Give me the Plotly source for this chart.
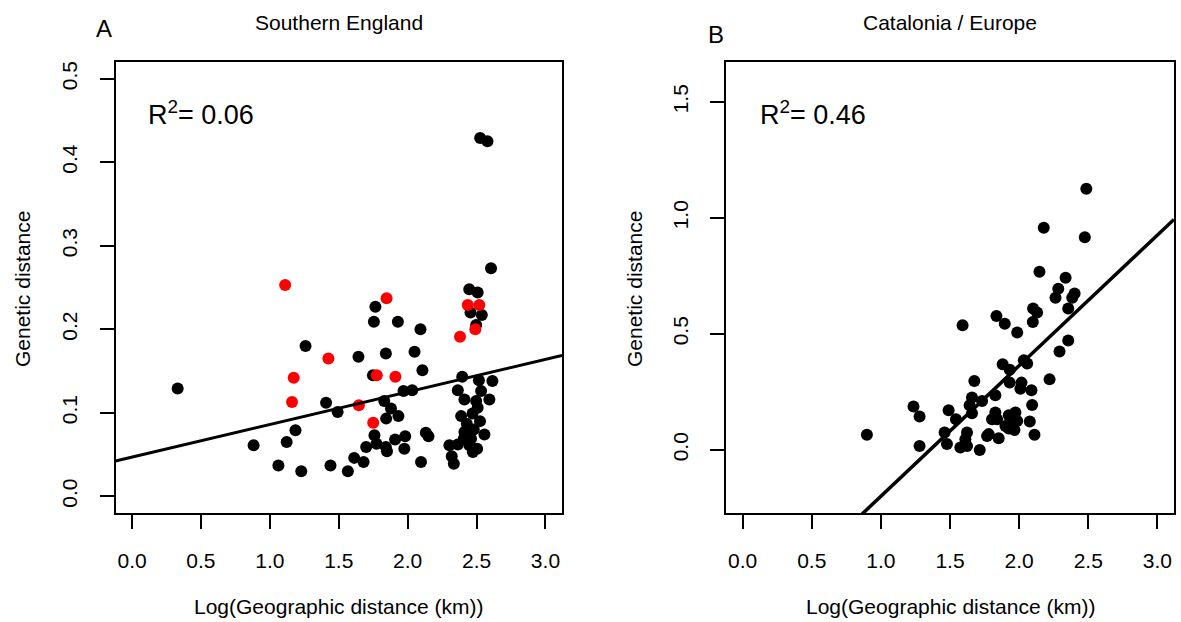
import plotly.graph_objects as go

# ---------------- data ----------------
# Panel A: Southern England (black = other pairs, red = highlighted pairs)
a_black_x = [0.331, 2.526, 2.579, 2.605, 2.447, 2.508, 2.456, 2.538, 2.497, 1.766,
             1.755, 1.929, 2.093, 1.259, 1.643, 1.842, 2.050, 2.107, 1.748, 2.396,
             2.517, 2.615, 1.970, 2.033, 2.364, 2.533, 2.412, 2.497, 2.593, 1.408,
             1.830, 1.492, 1.879, 2.508, 1.933, 1.844, 2.388, 2.471, 2.429, 1.186,
             1.759, 1.909, 1.982, 2.132, 2.151, 2.412, 2.557, 2.407, 2.460, 0.882,
             1.122, 1.774, 1.699, 1.842, 1.850, 1.976, 2.303, 2.364, 2.448, 2.504,
             2.473, 1.612, 1.680, 2.097, 2.320, 2.335, 1.062, 1.440, 1.228, 1.566,
             2.480, 2.440, 2.525]
a_black_y = [0.129, 0.429, 0.425, 0.273, 0.248, 0.244, 0.220, 0.217, 0.205, 0.227,
             0.209, 0.209, 0.200, 0.180, 0.167, 0.171, 0.173, 0.151, 0.145, 0.143,
             0.139, 0.138, 0.126, 0.127, 0.127, 0.126, 0.116, 0.114, 0.116, 0.112,
             0.114, 0.101, 0.105, 0.106, 0.096, 0.093, 0.096, 0.099, 0.087, 0.079,
             0.073, 0.068, 0.072, 0.076, 0.072, 0.077, 0.074, 0.069, 0.069, 0.061,
             0.065, 0.063, 0.059, 0.059, 0.054, 0.057, 0.061, 0.062, 0.061, 0.057,
             0.053, 0.046, 0.041, 0.041, 0.048, 0.039, 0.037, 0.037, 0.030, 0.030,
             0.080, 0.074, 0.090]
a_red_x = [1.111, 1.847, 2.436, 2.520, 2.491, 2.380, 1.425, 1.173, 1.776, 1.911,
           1.161, 1.646, 1.750]
a_red_y = [0.253, 0.237, 0.229, 0.229, 0.200, 0.191, 0.165, 0.142, 0.145, 0.143,
           0.113, 0.109, 0.088]

# Panel B: Catalonia / Europe
b_x = [2.486, 2.178, 2.475, 2.147, 2.336, 2.283, 2.263, 2.401, 2.384, 2.355,
       2.101, 2.130, 2.099, 1.836, 1.896, 1.591, 1.986, 2.355, 2.292, 2.034,
       2.058, 1.881, 1.932, 2.220, 1.676, 1.932, 2.017, 2.009, 2.089, 1.828,
       1.659, 1.732, 1.642, 1.236, 1.280, 1.490, 1.659, 2.094, 1.543, 1.828,
       1.804, 1.841, 1.925, 1.973, 1.986, 1.937, 2.077, 1.925, 1.966, 2.111,
       0.899, 1.461, 1.623, 1.768, 1.852, 1.611, 1.280, 1.478, 1.575, 1.623,
       1.715, 1.780, 1.901]
b_y = [1.126, 0.958, 0.917, 0.768, 0.742, 0.695, 0.656, 0.674, 0.656, 0.609,
       0.609, 0.592, 0.551, 0.577, 0.544, 0.537, 0.506, 0.472, 0.424, 0.386,
       0.372, 0.369, 0.345, 0.304, 0.297, 0.290, 0.290, 0.264, 0.257, 0.236,
       0.226, 0.211, 0.192, 0.187, 0.144, 0.171, 0.158, 0.194, 0.132, 0.161,
       0.132, 0.132, 0.149, 0.161, 0.125, 0.125, 0.122, 0.092, 0.086, 0.065,
       0.065, 0.075, 0.075, 0.060, 0.050, 0.046, 0.017, 0.025, 0.010, 0.017,
       0.000, 0.068, 0.103]

# regression fits (intercept, slope) and R^2 labels
fit_a = (0.047, 0.039)
fit_b = (-0.763, 0.563)
r2_a = "0.06"
r2_b = "0.46"

panel_titles = ["Southern England", "Catalonia / Europe"]
panel_letters = ["A", "B"]
x_title = "Log(Geographic distance (km))"
y_title = "Genetic distance"

x_ticks = [0.0, 0.5, 1.0, 1.5, 2.0, 2.5, 3.0]
a_y_ticks = [0.0, 0.1, 0.2, 0.3, 0.4, 0.5]
b_y_ticks = [0.0, 0.5, 1.0, 1.5]

x_range = [-0.12, 3.12]
a_y_range = [-0.02, 0.52]
b_y_range = [-0.272, 1.672]

# ---------------- figure ----------------
W, H = 1181, 622
FONT = "Liberation Sans, Arial, sans-serif"

def px_x(p):
    return p / W

def px_y(p):
    return 1 - p / H

fig = go.Figure()

mk = dict(size=12, line=dict(width=0))

fig.add_trace(go.Scatter(x=a_black_x, y=a_black_y, mode="markers",
                         marker=dict(color="black", **mk), xaxis="x", yaxis="y",
                         showlegend=False))
fig.add_trace(go.Scatter(x=a_red_x, y=a_red_y, mode="markers",
                         marker=dict(color="#ff0000", **mk), xaxis="x", yaxis="y",
                         showlegend=False))
fig.add_trace(go.Scatter(x=x_range,
                         y=[fit_a[0] + fit_a[1] * v for v in x_range],
                         mode="lines", line=dict(color="black", width=3),
                         xaxis="x", yaxis="y", showlegend=False))

fig.add_trace(go.Scatter(x=b_x, y=b_y, mode="markers",
                         marker=dict(color="black", **mk), xaxis="x2", yaxis="y2",
                         showlegend=False))
fig.add_trace(go.Scatter(x=x_range,
                         y=[fit_b[0] + fit_b[1] * v for v in x_range],
                         mode="lines", line=dict(color="black", width=3.5),
                         xaxis="x2", yaxis="y2", showlegend=False))

tickfont = dict(family=FONT, size=21, color="black")
common_x = dict(range=x_range, tickvals=x_ticks, ticktext=[f"{v:.1f}" for v in x_ticks],
                showgrid=False, zeroline=False, showline=True, mirror=True,
                linecolor="black", linewidth=1.5, ticks="outside", ticklen=14,
                tickwidth=1.5, tickcolor="black", tickfont=tickfont,
                ticklabelstandoff=14)
common_y = dict(showgrid=False, zeroline=False, showline=True, mirror=True,
                linecolor="black", linewidth=1.5, ticks="outside", ticklen=14,
                tickwidth=1.5, tickcolor="black", tickfont=tickfont,
                tickangle=-90, ticklabelstandoff=14)

yA = [px_y(513), px_y(62)]
fig.update_layout(
    width=W, height=H,
    margin=dict(l=0, r=0, t=0, b=0),
    paper_bgcolor="white", plot_bgcolor="white",
    font=dict(family=FONT, color="black"),
    xaxis=dict(domain=[px_x(115.5), px_x(562)], anchor="y", **common_x),
    yaxis=dict(domain=yA, anchor="x", range=a_y_range, tickvals=a_y_ticks,
               ticktext=[f"{v:.1f}" for v in a_y_ticks], **common_y),
    xaxis2=dict(domain=[px_x(726), px_x(1174)], anchor="y2", **common_x),
    yaxis2=dict(domain=yA, anchor="x2", range=b_y_range, tickvals=b_y_ticks,
                ticktext=[f"{v:.1f}" for v in b_y_ticks], **common_y),
)

ann = []
centers = [(115.5 + 562) / 2, (726 + 1174) / 2]
for i, c in enumerate(centers):
    ann.append(dict(text=panel_titles[i], x=px_x(c), y=px_y(23), xref="paper", yref="paper",
                    xanchor="center", yanchor="middle", showarrow=False,
                    font=dict(family=FONT, size=21, color="black")))
    ann.append(dict(text=x_title, x=px_x(c), y=px_y(606), xref="paper", yref="paper",
                    xanchor="center", yanchor="middle", showarrow=False,
                    font=dict(family=FONT, size=21, color="black")))
ann.append(dict(text=y_title, x=px_x(22), y=px_y(289), xref="paper", yref="paper",
                xanchor="center", yanchor="middle", showarrow=False, textangle=-90,
                font=dict(family=FONT, size=21, color="black")))
ann.append(dict(text=y_title, x=px_x(634), y=px_y(289), xref="paper", yref="paper",
                xanchor="center", yanchor="middle", showarrow=False, textangle=-90,
                font=dict(family=FONT, size=21, color="black")))
ann.append(dict(text=panel_letters[0], x=px_x(103.5), y=px_y(29), xref="paper", yref="paper",
                xanchor="center", yanchor="middle", showarrow=False,
                font=dict(family=FONT, size=24, color="black")))
ann.append(dict(text=panel_letters[1], x=px_x(715.5), y=px_y(34), xref="paper", yref="paper",
                xanchor="center", yanchor="middle", showarrow=False,
                font=dict(family=FONT, size=24, color="black")))
ann.append(dict(text="R<sup>2</sup>= " + r2_a, x=px_x(146), y=px_y(113), xref="paper", yref="paper",
                xanchor="left", yanchor="middle", showarrow=False,
                font=dict(family=FONT, size=27, color="black")))
ann.append(dict(text="R<sup>2</sup>= " + r2_b, x=px_x(758), y=px_y(113), xref="paper", yref="paper",
                xanchor="left", yanchor="middle", showarrow=False,
                font=dict(family=FONT, size=27, color="black")))
fig.update_layout(annotations=ann)

fig.write_html("out.html")
